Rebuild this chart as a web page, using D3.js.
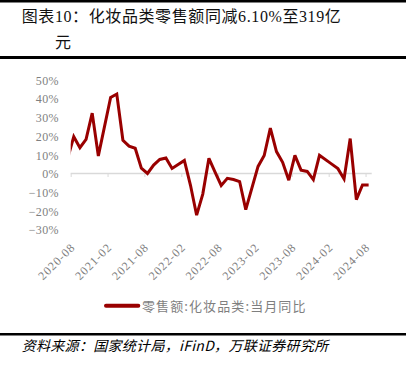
<!DOCTYPE html>
<html>
<head>
<meta charset="utf-8">
<script src="https://cdn.jsdelivr.net/npm/d3@7"></script>
<style>
  html, body { margin: 0; padding: 0; background: #ffffff; }
  svg { display: block; }
</style>
</head>
<body>
<svg id="chart" width="413" height="368"></svg>
<script>
// ---- data ----
const months = [
  "2020-07","2020-08","2020-09","2020-10","2020-11","2020-12",
  "2021-01","2021-02","2021-03","2021-04","2021-05","2021-06","2021-07","2021-08","2021-09","2021-10","2021-11","2021-12",
  "2022-01","2022-02","2022-03","2022-04","2022-05","2022-06","2022-07","2022-08","2022-09","2022-10","2022-11","2022-12",
  "2023-01","2023-02","2023-03","2023-04","2023-05","2023-06","2023-07","2023-08","2023-09","2023-10","2023-11","2023-12",
  "2024-01","2024-02","2024-03","2024-04","2024-05","2024-06","2024-07","2024-08"
];
const yoy = [
  8.0, 19.7, 13.8, 18.3, 32.3, 9.4,
  null, 40.7, 42.5, 17.8, 14.6, 13.5, 2.8, 0.0, 4.5, 7.5, 8.3, 2.7,
  null, 7.0, -6.3, -22.3, -11.0, 8.1, 0.7, -6.4, -2.6, -3.2, -4.3, -19.3,
  null, 3.8, 9.6, 24.3, 11.7, 6.0, -3.6, 9.7, 1.8, 1.1, -3.3, 9.7,
  null, 5.0, 2.6, -2.9, 18.7, -14.0, -6.1, -6.1
];
const axisStart = "2020-08";            // first category shown on the axis
const xTickLabels = ["2020-08","2021-02","2021-08","2022-02","2022-08","2023-02","2023-08","2024-02","2024-08"];
const yTicks = [50, 40, 30, 20, 10, 0, -10, -20, -30];
const seriesName = "零售额:化妆品类:当月同比";
const titleLine1 = "图表10：化妆品类零售额同减6.10%至319亿";
const titleLine2 = "元";
const sourceText = "资料来源：国家统计局，iFinD，万联证券研究所";

// ---- layout ----
const svg = d3.select("#chart");
const plot = { left: 70.7, right: 371.7, top: 80, bottom: 229.6 };
const lineColor = "#990000";
const labelColor = "#7f7f7f";

const startIdx = months.indexOf(axisStart);
const nCats = months.length - startIdx;
const x = d3.scaleLinear().domain([-0.5, nCats - 0.5]).range([plot.left, plot.right]);
const xi = m => x(months.indexOf(m) - startIdx);
const y = d3.scaleLinear().domain([-30, 50]).range([plot.bottom, plot.top]);

// title rules & title
svg.append("rect").attr("x", 0).attr("y", 0).attr("width", 406).attr("height", 2.5).attr("fill", "#000");
svg.append("rect").attr("x", 0).attr("y", 56).attr("width", 406).attr("height", 3).attr("fill", "#000");
const title = svg.append("text")
  .attr("font-family", "'Liberation Serif', 'Noto Sans CJK SC', serif")
  .attr("font-size", 16).attr("letter-spacing", 0.6).attr("fill", "#111");
title.append("tspan").attr("x", 21.7).attr("y", 21.5).text(titleLine1);
title.append("tspan").attr("x", 55).attr("y", 47.5).text(titleLine2);

// y axis labels (no axis line)
const yAxis = d3.axisLeft(y).tickValues(yTicks).tickSize(0).tickPadding(0)
  .tickFormat(d => (d < 0 ? "\u2212" + Math.abs(d) : d) + "%");
const gy = svg.append("g").attr("transform", `translate(${59},0)`).call(yAxis);
gy.select(".domain").remove();
gy.selectAll("text")
  .attr("font-family", "'Liberation Serif', serif").attr("font-size", 12)
  .attr("letter-spacing", 0.4).attr("fill", labelColor).attr("dy", "0.35em");

// x axis line at 0% with ticks at category boundaries
const tickIdx = xTickLabels.map(m => months.indexOf(m) - startIdx);
const boundaryTicks = tickIdx.map(i => i - 0.5);
const xAxis = d3.axisBottom(x).tickValues(boundaryTicks).tickSize(3.5).tickFormat("");
const gx = svg.append("g").attr("transform", `translate(0,${y(0)})`).call(xAxis);
gx.select(".domain").attr("stroke", "#d9d9d9").attr("stroke-width", 1.5)
  .attr("d", `M${plot.left},0H${plot.right}`);
gx.selectAll(".tick line").attr("stroke", "#d9d9d9").attr("stroke-width", 1);

// rotated x labels at category centres, low position
svg.append("g").selectAll("text").data(xTickLabels).join("text")
  .attr("transform", d => `translate(${xi(d) + 2},${248}) rotate(-45)`)
  .attr("text-anchor", "end")
  .attr("font-family", "'Liberation Serif', serif").attr("font-size", 12)
  .attr("letter-spacing", 0.9).attr("fill", labelColor)
  .text(d => d);

// clip to plot area
svg.append("clipPath").attr("id", "plotclip").append("rect")
  .attr("x", plot.left).attr("y", 0).attr("width", plot.right - plot.left).attr("height", 368);

const pts = months.map((m, i) => ({ m, v: yoy[i] })).filter(d => d.v !== null);
const line = d3.line().x(d => xi(d.m)).y(d => y(d.v));
svg.append("path").datum(pts)
  .attr("clip-path", "url(#plotclip)")
  .attr("d", line).attr("fill", "none")
  .attr("stroke", lineColor).attr("stroke-width", 3).attr("stroke-linejoin", "miter").attr("stroke-miterlimit", 3);

// legend
const lg = svg.append("g");
lg.append("line").attr("x1", 106).attr("x2", 138.3).attr("y1", 305.7).attr("y2", 305.7)
  .attr("stroke", lineColor).attr("stroke-width", 4).attr("stroke-linecap", "round");
lg.append("text").attr("x", 142).attr("y", 310.5)
  .attr("font-family", "'Noto Sans CJK SC', sans-serif").attr("font-size", 13)
  .attr("letter-spacing", 1.1).attr("fill", labelColor).text(seriesName);

// source
svg.append("rect").attr("x", 0).attr("y", 333).attr("width", 406).attr("height", 2.5).attr("fill", "#000");
svg.append("text").attr("x", 21.7).attr("y", 351)
  .attr("font-family", "'Noto Sans CJK SC', sans-serif").attr("font-size", 14)
  .attr("font-style", "italic").attr("letter-spacing", 0.3).attr("fill", "#000")
  .text(sourceText);
</script>
</body>
</html>
